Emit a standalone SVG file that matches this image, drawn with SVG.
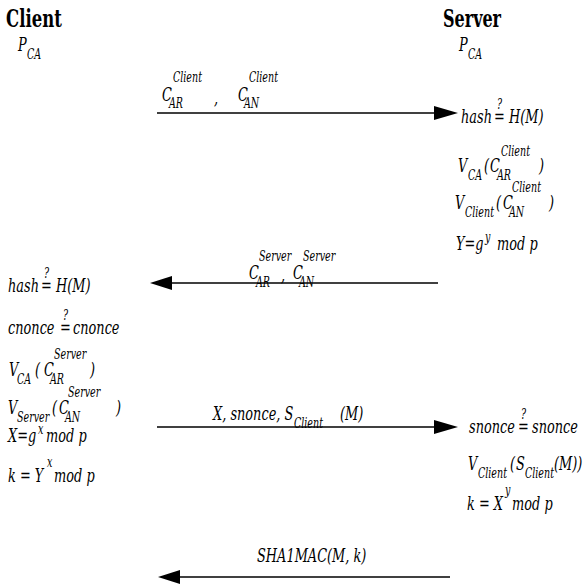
<svg xmlns="http://www.w3.org/2000/svg" width="587" height="588" viewBox="0 0 587 588" font-family="DejaVu Serif">
<style>
text{font-style:italic;font-size:19px;fill:#000}
.h{font-weight:bold;font-style:normal;font-size:25px}
.b{font-size:14px}
.p{font-size:14px}
.q{font-size:14px}
.ln{stroke:#000;stroke-width:1.6;fill:none}
.hd{fill:#000}
</style>
<rect width="587" height="588" fill="#fff"/>
<g id="client" font-family="DejaVu Serif">
<text class="h" transform="matrix(.66 0 0 1 6 27)">Client</text>
<text transform="matrix(.68 0 0 1 18 51)">P</text>
<text class="b" transform="matrix(.68 0 0 1 27 59)">CA</text>
<text transform="matrix(.68 0 0 1 8 292)">hash</text>
<text transform="matrix(.68 0 0 1 41 292)">=</text>
<text class="q" transform="matrix(.68 0 0 1 44 278)">?</text>
<text transform="matrix(.68 0 0 1 56 292)">H(M)</text>
<text transform="matrix(.68 0 0 1 8 334)">cnonce</text>
<text transform="matrix(.68 0 0 1 60 334)">=</text>
<text class="q" transform="matrix(.68 0 0 1 63 320)">?</text>
<text transform="matrix(.68 0 0 1 73 334)">cnonce</text>
<text transform="matrix(.68 0 0 1 9 376)">V</text>
<text class="b" transform="matrix(.68 0 0 1 17 384)">CA</text>
<text transform="matrix(.68 0 0 1 35 376)">(</text>
<text transform="matrix(.68 0 0 1 44 376)">C</text>
<text class="b" transform="matrix(.68 0 0 1 50 384)">AR</text>
<text class="p" transform="matrix(.68 0 0 1 54 359)">Server</text>
<text transform="matrix(.68 0 0 1 90 376)">)</text>
<text transform="matrix(.68 0 0 1 8 414)">V</text>
<text class="b" transform="matrix(.68 0 0 1 17 422)">Server</text>
<text transform="matrix(.68 0 0 1 52 414)">(</text>
<text transform="matrix(.68 0 0 1 59 414)">C</text>
<text class="b" transform="matrix(.68 0 0 1 65 422)">AN</text>
<text class="p" transform="matrix(.68 0 0 1 68 397)">Server</text>
<text transform="matrix(.68 0 0 1 116 414)">)</text>
<text transform="matrix(.68 0 0 1 8 442)">X=g</text>
<text class="b" transform="matrix(.68 0 0 1 38 434)">x</text>
<text transform="matrix(.68 0 0 1 46 442)">mod p</text>
<text transform="matrix(.68 0 0 1 8 482)">k = Y</text>
<text class="b" transform="matrix(.68 0 0 1 47 467)">x</text>
<text transform="matrix(.68 0 0 1 54 482)">mod p</text>
</g>
<g id="server" font-family="DejaVu Serif">
<text class="h" transform="matrix(.64 0 0 1 443 27)">Server</text>
<text transform="matrix(.68 0 0 1 459 51)">P</text>
<text class="b" transform="matrix(.68 0 0 1 468 59)">CA</text>
<text transform="matrix(.68 0 0 1 461 123)">hash</text>
<text transform="matrix(.68 0 0 1 494 123)">=</text>
<text class="q" transform="matrix(.68 0 0 1 497 109)">?</text>
<text transform="matrix(.68 0 0 1 509 123)">H(M)</text>
<text transform="matrix(.68 0 0 1 458 172)">V</text>
<text class="b" transform="matrix(.68 0 0 1 468 180)">CA</text>
<text transform="matrix(.68 0 0 1 484 172)">(</text>
<text transform="matrix(.68 0 0 1 490 172)">C</text>
<text class="b" transform="matrix(.68 0 0 1 497 180)">AR</text>
<text class="p" transform="matrix(.68 0 0 1 501 156)">Client</text>
<text transform="matrix(.68 0 0 1 539 172)">)</text>
<text transform="matrix(.68 0 0 1 455 209)">V</text>
<text class="b" transform="matrix(.68 0 0 1 465 217)">Client</text>
<text transform="matrix(.68 0 0 1 496 209)">(</text>
<text transform="matrix(.68 0 0 1 503 209)">C</text>
<text class="b" transform="matrix(.68 0 0 1 509 217)">AN</text>
<text class="p" transform="matrix(.68 0 0 1 512 192)">Client</text>
<text transform="matrix(.68 0 0 1 549 209)">)</text>
<text transform="matrix(.68 0 0 1 456 250)">Y=g</text>
<text class="b" transform="matrix(.68 0 0 1 485 242)">y</text>
<text transform="matrix(.68 0 0 1 497 250)">mod p</text>
<text transform="matrix(.68 0 0 1 469 433)">snonce</text>
<text transform="matrix(.68 0 0 1 518 433)">=</text>
<text class="q" transform="matrix(.68 0 0 1 521 419)">?</text>
<text transform="matrix(.68 0 0 1 532 433)">snonce</text>
<text transform="matrix(.68 0 0 1 468 470)">V</text>
<text class="b" transform="matrix(.68 0 0 1 478 478)">Client</text>
<text transform="matrix(.68 0 0 1 510 470)">(</text>
<text transform="matrix(.68 0 0 1 516 470)">S</text>
<text class="b" transform="matrix(.68 0 0 1 525 478)">Client</text>
<text transform="matrix(.68 0 0 1 554 470)">(M))</text>
<text transform="matrix(.68 0 0 1 467 510)">k = X</text>
<text class="b" transform="matrix(.68 0 0 1 505 495)">y</text>
<text transform="matrix(.68 0 0 1 512 510)">mod p</text>
</g>
<g id="connectors" font-family="DejaVu Serif">
<g id="msg1">
<line class="ln" x1="157" y1="113" x2="436" y2="113"/>
<polygon class="hd" points="434,106 458,113 434,120"/>
<text transform="matrix(.68 0 0 1 162 101)">C</text>
<text class="b" transform="matrix(.68 0 0 1 169 108)">AR</text>
<text class="p" transform="matrix(.68 0 0 1 173 82)">Client</text>
<text transform="matrix(.68 0 0 1 214 104)">,</text>
<text transform="matrix(.68 0 0 1 238 101)">C</text>
<text class="b" transform="matrix(.68 0 0 1 244 108)">AN</text>
<text class="p" transform="matrix(.68 0 0 1 249 82)">Client</text>
</g>
<g id="msg2">
<line class="ln" x1="438" y1="283" x2="170" y2="283"/>
<polygon class="hd" points="172,276 150,283 172,290"/>
<text transform="matrix(.68 0 0 1 249 279)">C</text>
<text class="b" transform="matrix(.68 0 0 1 256 287)">AR</text>
<text class="p" transform="matrix(.68 0 0 1 259 261)">Server</text>
<text transform="matrix(.68 0 0 1 281 281)">,</text>
<text transform="matrix(.68 0 0 1 293 279)">C</text>
<text class="b" transform="matrix(.68 0 0 1 299 287)">AN</text>
<text class="p" transform="matrix(.68 0 0 1 303 261)">Server</text>
</g>
<g id="msg3">
<line class="ln" x1="157" y1="427" x2="436" y2="427"/>
<polygon class="hd" points="434,420 458,427 434,434"/>
<text transform="matrix(.68 0 0 1 213 420)">X, snonce, S</text>
<text class="b" transform="matrix(.68 0 0 1 294 428)">Client</text>
<text transform="matrix(.68 0 0 1 340 420)">(M)</text>
</g>
<g id="msg4">
<line class="ln" x1="450" y1="577" x2="178" y2="577"/>
<polygon class="hd" points="180,570 158,577 180,584"/>
<text transform="matrix(.68 0 0 1 257 562)">SHA1MAC(M, k)</text>
</g>
</g>
</svg>
